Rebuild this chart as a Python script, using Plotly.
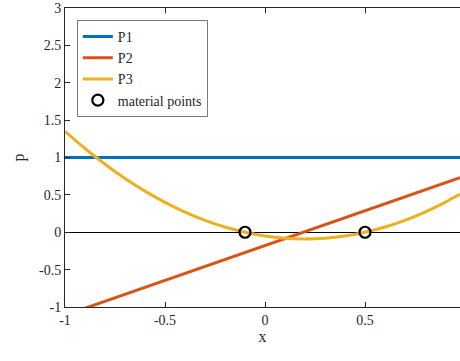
import plotly.graph_objects as go

x_p1 = [-1.0, 0.975]
p1 = [1.0, 1.0]

x_p2 = [-1.0, 0.975]
p2 = [-1.11, 0.73]

x_p3 = [-1.0, -0.9, -0.8, -0.7, -0.6, -0.5, -0.4, -0.3, -0.2, -0.1, 0.0, 0.1, 0.2, 0.3, 0.4, 0.5, 0.6, 0.7, 0.8, 0.9, 0.975]
p3 = [1.35, 1.12, 0.91, 0.72, 0.55, 0.40, 0.27, 0.16, 0.07, 0.0, -0.05, -0.08, -0.09, -0.08, -0.05, 0.0, 0.07, 0.16, 0.27, 0.40, 0.51]

x_pts = [-0.1, 0.5]
y_pts = [0.0, 0.0]

x_ticks = [-1, -0.5, 0, 0.5]
x_ticklabels = ["-1", "-0.5", "0", "0.5"]
y_ticks = [-1, -0.5, 0, 0.5, 1, 1.5, 2, 2.5, 3]
y_ticklabels = ["-1", "-0.5", "0", "0.5", "1", "1.5", "2", "2.5", "3"]

font = "Liberation Serif"
axcol = "#262626"

fig = go.Figure()
fig.add_trace(go.Scatter(x=x_p1, y=p1, mode="lines", name="P1",
                         line=dict(color="#0072BD", width=3)))
fig.add_trace(go.Scatter(x=x_p2, y=p2, mode="lines", name="P2",
                         line=dict(color="#D95319", width=3)))
fig.add_trace(go.Scatter(x=x_p3, y=p3, mode="lines", name="P3",
                         line=dict(color="#EDB120", width=3, shape="spline")))
fig.add_trace(go.Scatter(x=x_pts, y=y_pts, mode="markers", name="material points",
                         marker=dict(symbol="circle-open", size=11, color="black",
                                     line=dict(width=2.2, color="black"))))

fig.update_layout(
    width=460, height=361,
    margin=dict(l=65, r=0, t=8, b=54),
    paper_bgcolor="white", plot_bgcolor="white",
    font=dict(family=font, size=14, color=axcol),
    showlegend=True,
    legend=dict(x=0.03, y=0.96, xanchor="left", yanchor="top",
                bgcolor="white", bordercolor="#7a7a7a", borderwidth=1,
                font=dict(family=font, size=14, color=axcol),
                tracegroupgap=0, itemwidth=30),
    xaxis=dict(range=[-1, 0.975], tickvals=x_ticks, ticktext=x_ticklabels,
               ticks="inside", ticklen=5, tickcolor=axcol, showgrid=False,
               zeroline=False, showline=True, linecolor=axcol, linewidth=1,
               mirror="ticks", title=dict(text="x", standoff=4,
                                          font=dict(family=font, size=16, color=axcol)),
               tickfont=dict(family=font, size=14, color=axcol)),
    yaxis=dict(range=[-1, 3], tickvals=y_ticks, ticktext=y_ticklabels,
               ticks="inside", ticklen=5, tickcolor=axcol, showgrid=False,
               zeroline=True, zerolinecolor="black", zerolinewidth=1,
               showline=True, linecolor=axcol, linewidth=1, mirror=False,
               title=dict(text="p", standoff=10,
                          font=dict(family=font, size=16, color=axcol)),
               tickfont=dict(family=font, size=14, color=axcol)),
)

fig.write_html("out.html", config={"displayModeBar": False},
               post_script="document.body.style.margin='0';document.body.style.overflow='hidden';")
